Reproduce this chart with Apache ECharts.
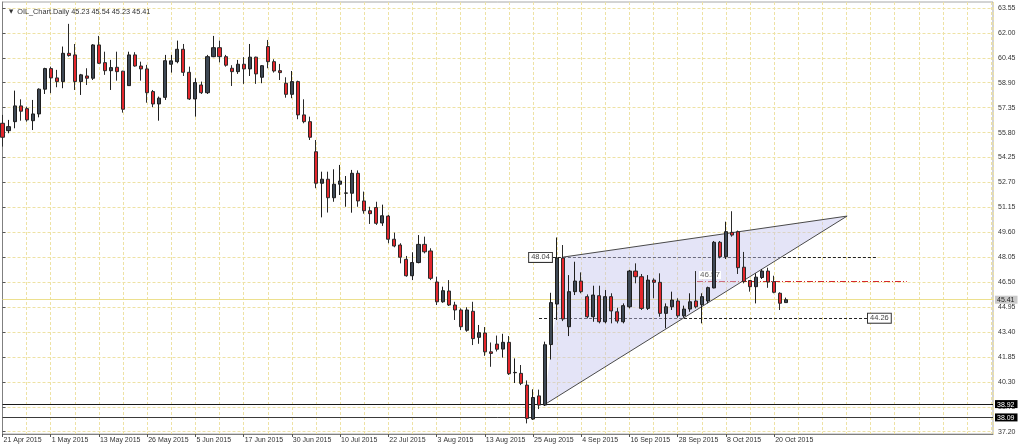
<!DOCTYPE html>
<html><head><meta charset="utf-8">
<script src="https://cdn.jsdelivr.net/npm/echarts@6/dist/echarts.min.js"></script>
<style>html,body{margin:0;padding:0;background:#fff}#c{width:1024px;height:448px}</style>
</head><body><div id="c"></div><script>
// ---- data ----
const symbolName = 'OIL_Chart.Daily';
const dateLabels = ['21 Apr 2015','1 May 2015','13 May 2015','26 May 2015','5 Jun 2015','17 Jun 2015','30 Jun 2015','10 Jul 2015','22 Jul 2015','3 Aug 2015','13 Aug 2015','25 Aug 2015','4 Sep 2015','16 Sep 2015','28 Sep 2015','8 Oct 2015','20 Oct 2015'];
const barsPerLabel = 8;
const opens = [56.38,55.92,56.48,57.46,57.29,56.54,56.96,58.50,59.78,59.20,58.97,60.73,60.63,58.97,59.32,59.18,61.25,60.15,59.65,59.86,
59.62,58.72,60.63,59.94,59.76,58.35,57.58,57.99,60.05,60.21,60.98,59.55,57.89,58.76,58.28,60.52,61.08,60.52,59.80,59.59,
60.05,59.76,60.49,59.24,61.15,60.21,59.65,58.87,58.18,58.97,56.90,56.48,54.61,52.65,52.90,51.75,52.59,52.03,52.03,53.27,
51.55,50.94,51.14,50.18,50.61,49.17,48.81,47.92,46.90,47.72,48.85,48.44,46.51,45.28,45.95,45.08,44.77,43.51,44.69,43.07,
43.34,42.17,42.65,42.34,42.76,40.87,40.83,40.10,37.99,39.43,38.86,42.62,45.14,48.00,43.73,45.91,46.57,45.60,44.35,45.66,
44.04,45.60,44.66,44.04,44.97,47.19,46.84,44.87,46.63,46.49,44.56,44.97,45.33,44.41,44.83,45.33,45.10,45.33,46.14,48.98,
48.08,49.60,49.64,47.43,46.60,46.22,46.79,47.19,46.53,45.81,45.23];
const highs = [56.90,56.59,58.41,57.87,57.41,57.83,58.55,59.83,59.90,59.70,61.15,62.56,61.31,59.45,59.80,61.30,61.81,60.83,60.32,60.83,
59.64,60.83,60.80,60.21,60.01,58.45,58.04,60.63,60.63,61.52,61.31,59.90,59.18,58.97,60.63,61.81,61.52,60.63,59.99,60.32,
60.49,61.31,60.52,60.00,61.56,60.36,60.07,59.24,59.63,59.03,57.87,56.79,55.34,53.37,53.37,53.52,53.79,53.10,53.48,53.45,
52.13,51.19,51.50,51.32,50.68,49.58,48.92,48.13,48.36,49.43,49.33,48.61,46.84,46.22,46.63,45.28,44.87,44.94,45.28,43.84,
43.71,42.75,43.18,43.29,43.15,41.76,41.35,40.39,39.84,39.82,42.80,45.84,49.28,48.81,46.94,47.77,47.11,45.74,46.28,46.28,
46.01,45.81,44.91,45.18,47.26,47.67,47.01,46.94,46.74,47.05,45.18,45.91,45.50,45.04,45.81,47.19,45.81,46.22,49.06,49.06,
50.26,50.91,49.71,48.38,46.63,47.05,47.32,47.40,46.90,45.87,45.54];
const lows = [54.93,55.76,56.07,56.54,56.48,55.96,56.75,58.20,58.25,58.62,58.56,60.52,58.45,58.14,58.76,59.07,60.07,59.39,58.45,59.03,
57.04,58.70,59.90,59.03,57.66,57.38,56.54,57.83,59.53,60.11,59.32,57.83,56.79,58.20,58.20,60.49,60.17,59.90,58.70,59.45,
58.83,59.32,58.83,58.87,59.80,59.53,59.07,57.97,57.94,56.63,56.38,55.34,52.34,50.53,50.83,51.50,51.92,51.19,50.82,51.19,
50.76,50.12,50.06,50.00,48.92,48.67,47.67,46.84,46.63,47.67,48.29,46.63,45.08,45.22,45.02,44.15,43.52,43.42,42.59,42.67,
41.92,41.24,42.19,41.81,40.73,40.23,40.10,37.72,37.93,38.61,38.80,41.69,44.15,44.08,43.15,45.70,45.81,44.25,44.04,43.94,
43.94,43.94,43.94,43.94,44.87,46.43,44.77,44.77,45.50,44.35,43.63,44.77,44.29,44.29,44.66,44.87,43.94,45.18,46.12,47.98,
47.94,49.33,47.01,46.43,45.91,45.18,46.70,46.15,45.81,44.77,45.23];
const closes = [55.51,56.17,57.46,57.13,56.59,56.96,58.50,59.78,59.20,58.97,60.73,60.59,58.97,59.39,59.18,61.25,60.11,59.65,59.84,59.59,
57.25,60.63,59.94,59.76,58.28,57.58,57.94,60.27,60.26,60.98,59.55,57.89,58.91,58.28,60.52,61.08,60.52,59.99,59.59,60.05,
59.76,60.49,59.45,59.96,60.21,59.63,59.53,58.18,58.97,56.90,56.48,55.51,52.65,52.90,51.75,52.59,52.79,52.05,53.27,51.55,
50.94,50.76,50.16,50.63,49.17,48.75,48.05,46.90,47.72,48.85,48.39,46.74,45.28,45.97,45.08,44.77,43.73,44.77,42.99,43.36,
42.17,42.07,42.33,42.76,40.81,40.89,40.21,38.03,39.33,38.86,42.61,45.23,48.00,44.21,45.91,46.57,45.91,44.35,45.70,44.04,
45.60,44.71,44.08,45.04,47.19,46.84,44.87,46.63,46.49,44.56,44.97,45.39,44.41,44.83,45.28,44.97,45.60,46.16,48.98,48.08,
49.64,49.43,47.40,46.55,46.22,46.81,47.19,46.51,45.87,45.19,45.41];
const priceTicks = [37.20,38.75,40.30,41.85,43.40,44.95,46.50,48.05,49.60,51.15,52.70,54.25,55.80,57.35,58.90,60.45,62.00,63.55];
const currentPrice = 45.41;
const supportLines = [38.92, 38.09];
// annotation levels: [price, fromBar, toBar]
const dashedLevels = [[48.04, 91.3, 144.9], [44.26, 89.0, 143.4]];
const dashDotLevel = [46.57, 115.2, 150.0];
// triangle vertices: [bar, price]
const triangle = [[89.8, 38.86], [93.0, 48.06], [140.1, 50.61]];
const totalBars = 164.3;

// ---- chart ----
const FONT = 'Liberation Sans';
const candles = opens.map((o, i) => [i, o, closes[i], lows[i], highs[i]]);
const labelBars = dateLabels.map((d, i) => i * barsPerLabel);
const last = opens.length - 1;
const fmt = v => v.toFixed(2);
const chart = echarts.init(document.getElementById('c'), null, {renderer: 'canvas'});
const gridColor = '#eee2a4';
const boxLabel = {
  show: true, fontSize: 7.5, fontFamily: FONT, color: '#444', backgroundColor: '#fff',
  borderColor: '#333', borderWidth: 1, padding: [1, 2, 0, 2], distance: 1
};
chart.setOption({
  animation: false,
  backgroundColor: '#fff',
  title: {
    text: '{arr|▼}  ' + symbolName + ' ' + [opens[last], highs[last], lows[last], closes[last]].map(fmt).join(' '),
    left: 4, top: 3,
    textStyle: {fontSize: 7.3, fontWeight: 'normal', color: '#333', fontFamily: FONT,
      rich: {arr: {fontSize: 5.5, color: '#333', fontFamily: 'DejaVu Sans'}}}
  },
  grid: {left: 2.5, right: 31, top: 2, bottom: 14, show: true, borderColor: '#a8a8a8', borderWidth: 1, backgroundColor: 'transparent'},
  xAxis: [{
    type: 'value', min: 0, max: totalBars, interval: 4, position: 'bottom',
    axisLine: {show: true, lineStyle: {color: '#808080'}},
    axisTick: {show: false}, axisLabel: {show: false},
    splitLine: {show: true, lineStyle: {color: gridColor, type: [3, 2], width: 1}}
  }, {
    type: 'value', min: 0, max: totalBars, position: 'bottom',
    axisLine: {show: false},
    axisTick: {show: true, length: 3, customValues: labelBars, lineStyle: {color: '#555'}},
    axisLabel: {customValues: labelBars, formatter: v => dateLabels[Math.round(v / barsPerLabel)] || '',
      align: 'left', margin: 3, fontSize: 7, color: '#333', fontFamily: FONT, padding: [0, 0, 0, 1]},
    splitLine: {show: false}
  }],
  yAxis: [{
    type: 'value', position: 'right', min: 37.06, max: 63.92,
    axisLine: {show: true, lineStyle: {color: '#808080'}},
    axisTick: {show: true, length: 3, customValues: priceTicks, lineStyle: {color: '#555'}},
    axisLabel: {customValues: priceTicks, formatter: fmt, margin: 5, fontSize: 7, color: '#333', fontFamily: FONT},
    splitLine: {show: true, lineStyle: {color: gridColor, type: [3, 2], width: 1}}
  }, {
    type: 'value', position: 'right', min: 37.06, max: 63.92, z: 10,
    axisLine: {show: false}, axisTick: {show: false}, splitLine: {show: false},
    axisLabel: {customValues: [currentPrice].concat(supportLines), margin: 2,
      formatter: v => (Math.abs(v - currentPrice) < 1e-6 ? '{cur|' : '{blk|') + fmt(v) + '}',
      rich: {
        cur: {fontSize: 7, fontFamily: FONT, color: '#222', backgroundColor: '#c9c9c9', padding: [1, 3, 0, 2]},
        blk: {fontSize: 7, fontFamily: FONT, color: '#fff', backgroundColor: '#000', padding: [1, 3, 0, 2]}
      }}
  }],
  series: [{
    type: 'custom', xAxisIndex: 0, yAxisIndex: 0, z: 1, silent: true, clip: true,
    data: [[0, 40]],
    renderItem: (params, api) => {
      const pts = triangle.map(p => api.coord(p));
      return {type: 'group', children: [
        {type: 'polygon', shape: {points: pts}, style: {fill: 'rgba(196,196,238,0.45)', stroke: null}},
        {type: 'polyline', shape: {points: [pts[1], pts[2]]}, style: {stroke: '#4a4a4a', lineWidth: 1, fill: null}},
        {type: 'polyline', shape: {points: [pts[0], pts[2]]}, style: {stroke: '#4a4a4a', lineWidth: 1, fill: null}}
      ]};
    }
  }, {
    type: 'line', xAxisIndex: 0, yAxisIndex: 0, data: [], silent: true, z: 1,
    markLine: {
      silent: true, symbol: 'none', z: 1, animation: false,
      label: {show: false},
      data: [
        {yAxis: currentPrice, lineStyle: {color: '#ede08e', type: 'solid', width: 1}},
        {yAxis: supportLines[0], lineStyle: {color: '#1a1a1a', type: 'solid', width: 1}},
        {yAxis: supportLines[1], lineStyle: {color: '#3a3a3a', type: 'solid', width: 1}},
        [{coord: [dashedLevels[0][1], dashedLevels[0][0]], lineStyle: {color: '#222', type: [3, 2], width: 1},
          label: Object.assign({}, boxLabel, {position: 'start', formatter: fmt(dashedLevels[0][0])})},
         {coord: [dashedLevels[0][2], dashedLevels[0][0]]}],
        [{coord: [dashedLevels[1][1], dashedLevels[1][0]], lineStyle: {color: '#222', type: [3, 2], width: 1},
          label: Object.assign({}, boxLabel, {position: 'end', formatter: fmt(dashedLevels[1][0])})},
         {coord: [dashedLevels[1][2], dashedLevels[1][0]]}],
        [{coord: [dashDotLevel[1], dashDotLevel[0]], lineStyle: {color: '#d42a2a', type: [6, 2, 1, 2], width: 1},
          label: {show: true, position: 'insideStartTop', formatter: fmt(dashDotLevel[0]), fontSize: 8, fontFamily: FONT,
            color: '#666', backgroundColor: '#fff', padding: [0, 1, 0, 1], distance: 2}},
         {coord: [dashDotLevel[2], dashDotLevel[0]]}]
      ]
    }
  }, {
    type: 'candlestick', xAxisIndex: 0, yAxisIndex: 0, z: 2, barWidth: 3.6,
    data: candles,
    itemStyle: {color: '#3e4854', color0: '#e3262c', borderColor: '#1e1e1e', borderColor0: '#2b2b2b',
      borderColorDoji: '#222', borderWidth: 1}
  }]
});
</script></body></html>
